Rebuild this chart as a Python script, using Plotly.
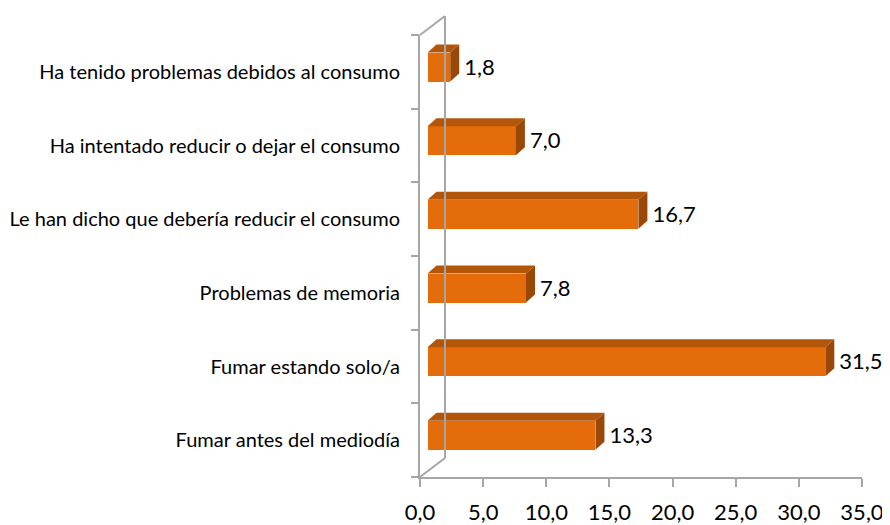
import plotly.graph_objects as go

# ---------------- data ----------------
categories = [
    "Ha tenido problemas debidos al consumo",
    "Ha intentado reducir o dejar el consumo",
    "Le han dicho que debería reducir el consumo",
    "Problemas de memoria",
    "Fumar estando solo/a",
    "Fumar antes del mediodía",
]
values = [1.8, 7.0, 16.7, 7.8, 31.5, 13.3]
x_ticks = [0, 5, 10, 15, 20, 25, 30, 35]

# ---------------- style ----------------
PAGE = 8                       # default body margin of the html page
W, H = 890 - PAGE, 525 - PAGE
L, R, T, B = 420 - PAGE, 28, 35 - PAGE, 48
pw, ph = W - L - R, H - T - B
xmax = 35
n = len(categories)
ux = pw / xmax          # px per x unit
uy = ph / n             # px per category

FRONT = "#E46C0A"
TOP = "#B4560A"
SIDE = "#9A4807"
AXIS = "#A6A6A6"
FONT = "Lato"

# 3D geometry (pixels)
wall_dx, wall_dy = 25, 19      # back wall offset
bar_dx0, bar_dy0 = 7.5, 4.8     # front face offset from front plane
depth_dx, depth_dy = 9, 8       # bar depth
bar_h = 29

off_x = bar_dx0 / ux
off_y = bar_dy0 / uy
ddx = depth_dx / ux
ddy = depth_dy / uy
bw = bar_h / uy

pos = [n - 1 - i for i in range(n)]
ycen = [p + off_y for p in pos]

fig = go.Figure()

# front faces
fig.add_trace(go.Bar(
    x=values, y=ycen, base=[off_x] * n, orientation="h", width=bw,
    marker=dict(color=FRONT, line=dict(width=0)), hoverinfo="skip",
    showlegend=False,
))

# top and side faces
tx, ty, sx, sy = [], [], [], []
for v, yc in zip(values, ycen):
    x0, x1 = off_x, off_x + v
    yt, yb = yc + bw / 2, yc - bw / 2
    tx += [x0, x1, x1 + ddx, x0 + ddx, x0, None]
    ty += [yt, yt, yt + ddy, yt + ddy, yt, None]
    sx += [x1, x1 + ddx, x1 + ddx, x1, x1, None]
    sy += [yb, yb + ddy, yt + ddy, yt, yb, None]
fig.add_trace(go.Scatter(x=tx, y=ty, fill="toself", fillcolor=TOP, mode="none",
                         hoverinfo="skip", showlegend=False))
fig.add_trace(go.Scatter(x=sx, y=sy, fill="toself", fillcolor=SIDE, mode="none",
                         hoverinfo="skip", showlegend=False))

# data labels
fig.add_trace(go.Scatter(
    x=[off_x + v + ddx + 5 / ux for v in values], y=[yc - 0.03 for yc in ycen],
    mode="text", text=[f"{v:.1f}".replace(".", ",") for v in values],
    textposition="middle right", textfont=dict(family=FONT, size=22, color="black"),
    cliponaxis=False, hoverinfo="skip", showlegend=False,
))

# invisible trace for boundary-tick axis
fig.add_trace(go.Scatter(x=[0], y=[0], yaxis="y2", mode="none", showlegend=False,
                         hoverinfo="skip"))

# back wall / frame lines (paper coords)
wx, wy = wall_dx / pw, wall_dy / ph
top_back = 1 + wy
shapes = [
    dict(type="line", xref="paper", yref="paper", x0=wx, x1=wx, y0=wy, y1=top_back,
         line=dict(color=AXIS, width=2)),
    dict(type="line", xref="paper", yref="paper", x0=0, x1=wx, y0=1, y1=top_back,
         line=dict(color=AXIS, width=2)),
    dict(type="line", xref="paper", yref="paper", x0=0, x1=wx, y0=0, y1=wy,
         line=dict(color=AXIS, width=2)),
]

fig.update_layout(
    width=W, height=H,
    margin=dict(l=L, r=R, t=T, b=B, pad=0, autoexpand=False),
    paper_bgcolor="white", plot_bgcolor="white",
    separators=",.",
    shapes=shapes,
    xaxis=dict(range=[0, xmax], tickvals=x_ticks, tickformat=".1f", automargin=False,
               showgrid=False, zeroline=False, showline=True, linecolor=AXIS, linewidth=2,
               ticks="outside", ticklen=8, tickwidth=2, tickcolor=AXIS,
               ticklabelstandoff=7,
               tickfont=dict(family=FONT, size=22, color="black"), fixedrange=True),
    yaxis=dict(range=[-0.5, n - 0.5], tickvals=pos, ticktext=categories, automargin=False,
               showgrid=False, zeroline=False, showline=True, linecolor=AXIS, linewidth=2,
               ticks="", ticklabelstandoff=14,
               tickfont=dict(family=FONT, size=20, color="black"), fixedrange=True),
    yaxis2=dict(range=[-0.5, n - 0.5], overlaying="y", side="left", automargin=False,
                tickvals=[p - 0.5 for p in range(n + 1)], showticklabels=False,
                ticks="outside", ticklen=8, tickwidth=2, tickcolor=AXIS,
                showgrid=False, zeroline=False, showline=False, fixedrange=True),
    bargap=0,
)

fig.write_html("out.html")
